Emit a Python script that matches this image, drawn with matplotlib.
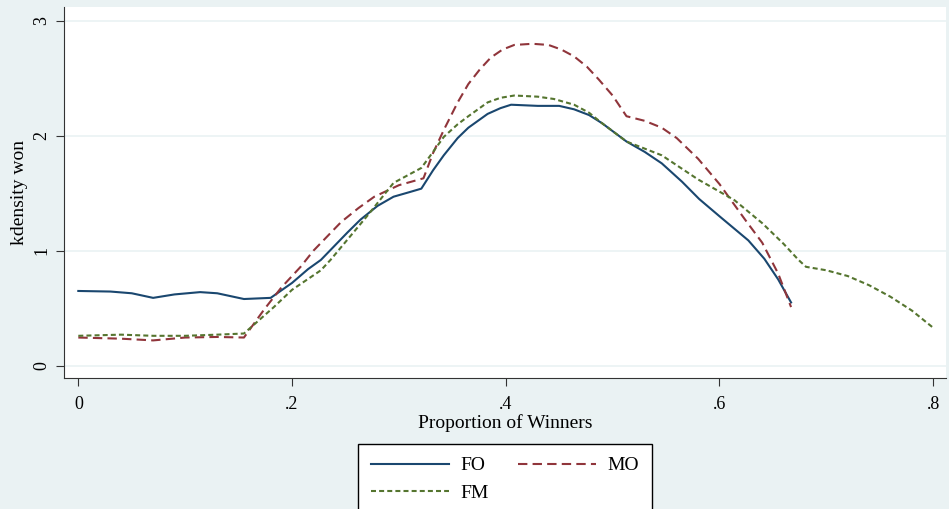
import numpy as np
import matplotlib.pyplot as plt

# kernel density curves
fo_x = [0, 0.03, 0.05, 0.07, 0.09, 0.114, 0.13, 0.155, 0.18, 0.2, 0.215, 0.227, 0.252, 0.264,
        0.28, 0.295, 0.31, 0.321, 0.332, 0.342, 0.355, 0.365, 0.383, 0.395, 0.405, 0.43, 0.45,
        0.464, 0.478, 0.49, 0.513, 0.53, 0.546, 0.565, 0.581, 0.6, 0.627, 0.642, 0.655, 0.667]
fo_y = [0.65, 0.645, 0.63, 0.59, 0.62, 0.64, 0.63, 0.58, 0.59, 0.72, 0.84, 0.92, 1.16, 1.27,
        1.39, 1.47, 1.51, 1.54, 1.7, 1.83, 1.98, 2.07, 2.19, 2.24, 2.27, 2.26, 2.26,
        2.23, 2.18, 2.11, 1.95, 1.86, 1.76, 1.6, 1.45, 1.3, 1.09, 0.93, 0.75, 0.55]

mo_x = [0, 0.04, 0.07, 0.1, 0.13, 0.155, 0.174, 0.19, 0.208, 0.22, 0.246, 0.262, 0.277, 0.3,
        0.323, 0.332, 0.342, 0.355, 0.365, 0.376, 0.386, 0.397, 0.408, 0.425, 0.44, 0.452,
        0.464, 0.476, 0.487, 0.5, 0.513, 0.53, 0.546, 0.56, 0.58, 0.6, 0.624, 0.64, 0.655, 0.667]
mo_y = [0.245, 0.235, 0.22, 0.245, 0.25, 0.245, 0.49, 0.68, 0.86, 1.0, 1.25, 1.37, 1.47, 1.57,
        1.63, 1.85, 2.05, 2.29, 2.45, 2.58, 2.68, 2.75, 2.79, 2.8, 2.79, 2.75,
        2.69, 2.6, 2.49, 2.35, 2.17, 2.13, 2.07, 1.98, 1.8, 1.58, 1.27, 1.07, 0.8, 0.51]

fm_x = [0, 0.04, 0.07, 0.1, 0.13, 0.155, 0.183, 0.2, 0.227, 0.236, 0.271, 0.295, 0.321,
        0.332, 0.342, 0.355, 0.365, 0.383, 0.395, 0.408, 0.43, 0.445, 0.464, 0.478, 0.49,
        0.513, 0.546, 0.58, 0.614, 0.64, 0.66, 0.674, 0.681, 0.7, 0.72, 0.74, 0.76, 0.78, 0.8]
fm_y = [0.26, 0.27, 0.26, 0.26, 0.27, 0.28, 0.51, 0.66, 0.83, 0.92, 1.31, 1.59, 1.72,
        1.86, 1.99, 2.1, 2.17, 2.29, 2.33, 2.35, 2.34, 2.32, 2.27, 2.2, 2.11,
        1.95, 1.83, 1.62, 1.44, 1.24, 1.06, 0.92, 0.86, 0.83, 0.78, 0.7, 0.6, 0.48, 0.33]

plt.rcParams['font.family'] = ['Liberation Serif', 'DejaVu Serif']

bg = '#eaf2f3'
fig = plt.figure(figsize=(9.49, 5.09), dpi=100, facecolor=bg)
ax = fig.add_axes([64 / 949, 1 - 378 / 509, 882 / 949, 371 / 509])
ax.set_facecolor('white')

ax.plot(fo_x, fo_y, color='#1a476f', lw=1.5, label='FO')
ax.plot(mo_x, mo_y, color='#90353b', lw=1.5, dashes=(4.5, 2.5), label='MO')
ax.plot(fm_x, fm_y, color='#55752f', lw=1.5, dashes=(2.4, 1.5), label='FM')

ax.set_xlim(-0.0134, 0.812)
ax.set_ylim(-0.107, 3.12)
ax.set_xticks([0, 0.2, 0.4, 0.6, 0.8])
ax.set_xticklabels(['0', '.2', '.4', '.6', '.8'], fontsize=13)
ax.set_yticks([0, 1, 2, 3])
ax.set_yticklabels(['0', '1', '2', '3'], fontsize=13, rotation=90, va='center')
ax.grid(axis='y', color=bg, lw=1.2)
ax.set_axisbelow(True)
for s in ['top', 'right']:
    ax.spines[s].set_visible(False)
for s in ['left', 'bottom']:
    ax.spines[s].set_color('#333333')
ax.tick_params(direction='out', length=6, color='#333333')
ax.tick_params(axis='x', pad=7)
ax.tick_params(axis='y', pad=4)

ax.set_xlabel('Proportion of Winners', fontsize=14, labelpad=1)
ax.set_ylabel('kdensity won', fontsize=14, labelpad=4)

h = ax.lines
leg = fig.legend(handles=[h[0], h[2], h[1]], labels=['FO', 'FM', 'MO'], ncol=2,
                 loc='upper center', bbox_to_anchor=(505 / 949, 1 - 444 / 509), fontsize=14,
                 frameon=True, fancybox=False, edgecolor='black', facecolor='white',
                 framealpha=1, handlelength=4.0, handletextpad=0.6, columnspacing=1.5,
                 borderpad=0.66, labelspacing=0.5, borderaxespad=0)
leg.get_frame().set_linewidth(1.0)

fig.savefig('out.png', dpi=100, facecolor=bg)
